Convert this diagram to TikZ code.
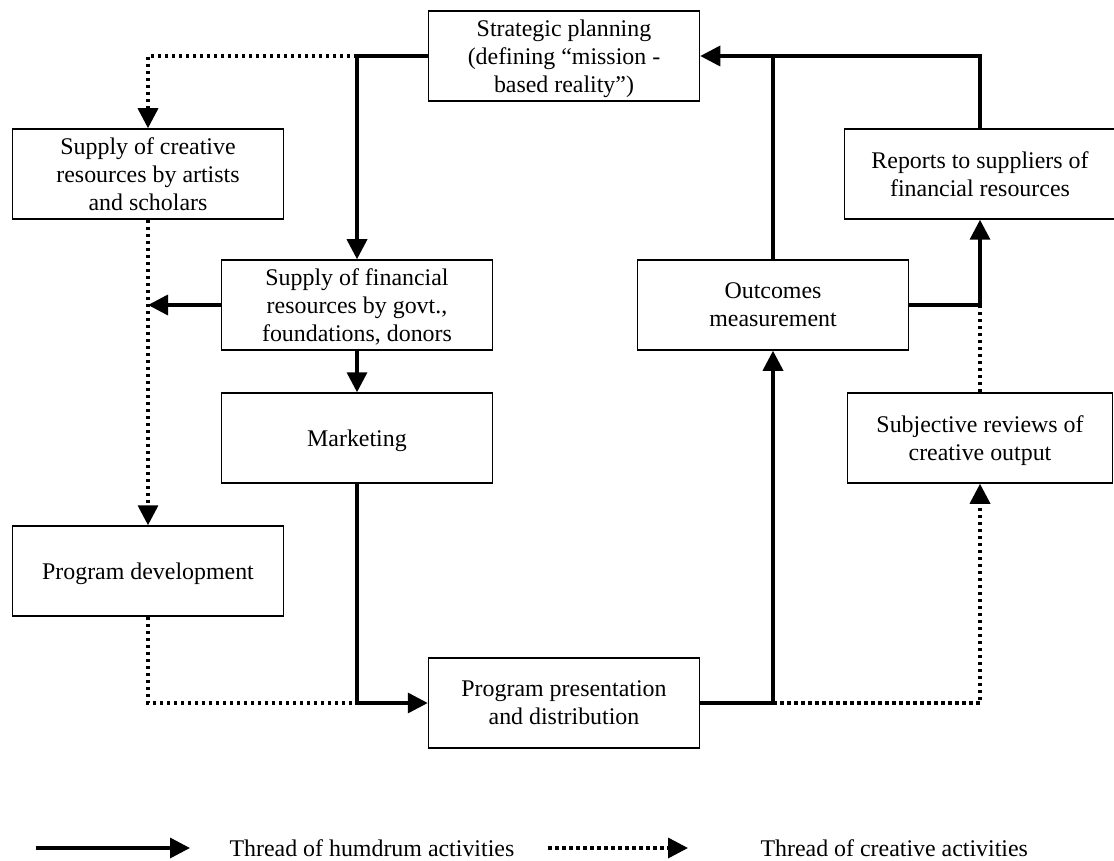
\documentclass[tikz,border=0pt]{standalone}
\usepackage{fontspec}
\setmainfont{Liberation Serif}
\usetikzlibrary{arrows.meta}

\begin{document}
\begin{tikzpicture}[x=1pt,y=-1pt]
        \tikzstyle{every node}=[font=\fontsize{23.9}{28}\selectfont]
        \tikzstyle{box}=[draw,line width=1.5pt,minimum width=271pt,minimum height=90pt,align=center,inner sep=2pt,text depth=-8pt]
        \tikzstyle{humdrum}=[line width=3.5pt]
        \tikzstyle{creative}=[line width=3.5pt,dash pattern=on 3.5pt off 3.5pt]
        \tikzstyle{arrowhead}=[-{Triangle[length=20pt,width=20pt]}]
        \useasboundingbox (0,0) rectangle (1114,861);
        \node[box] (plan) at (564,56) {Strategic planning\\(defining “mission -\\based reality”)};
        \node[box] (creative) at (148,174) {Supply of creative\\resources by artists\\and scholars};
        \node[box] (reports) at (980,174) {Reports to suppliers of\\financial resources};
        \node[box] (financial) at (357,305) {Supply of financial\\resources by govt.,\\foundations, donors};
        \node[box] (outcomes) at (773,305) {Outcomes\\measurement};
        \node[box] (marketing) at (357,438) {Marketing};
        \node[box,minimum width=265pt] (reviews) at (980,438) {Subjective reviews of\\creative output};
        \node[box] (develop) at (148,571) {Program development};
        \node[box] (present) at (564,703) {Program presentation\\and distribution};
        \draw[creative,arrowhead] (financial.north |- plan.west) -| (creative.north);
        \draw[humdrum,arrowhead] (plan.west) -| (financial.north);
        \draw[creative,arrowhead] (creative.south) -- (develop.north);
        \draw[humdrum,arrowhead] (financial.west) -- (financial.west -| creative.south);
        \draw[humdrum,arrowhead] (financial.south) -- (marketing.north);
        \draw[creative] (develop.south) |- (marketing.south |- present.west);
        \draw[humdrum,arrowhead] (marketing.south) |- (present.west);
        \draw[creative,arrowhead] (outcomes.south |- present.east) -| (reviews.south);
        \draw[humdrum,arrowhead] (present.east) -| (outcomes.south);
        \draw[creative] (reviews.north) -- (reviews.north |- outcomes.east);
        \draw[humdrum,arrowhead] (outcomes.east) -| (reports.south);
        \draw[humdrum] (outcomes.north) -- (outcomes.north |- plan.east);
        \draw[humdrum,arrowhead] (reports.north) |- (plan.east);
        \coordinate (h1) at (36,848);
        \coordinate (h2) at (190,848);
        \coordinate (c1) at (548,848);
        \coordinate (c2) at (688,848);
        \draw[humdrum,arrowhead] (h1) -- (h2);
        \node[anchor=west] (hlabel) at (226,848) {Thread of humdrum activities};
        \draw[creative,arrowhead] (c1) -- (c2);
        \node[anchor=west] (clabel) at (757,848) {Thread of creative activities};
    \end{tikzpicture}
\end{document}
